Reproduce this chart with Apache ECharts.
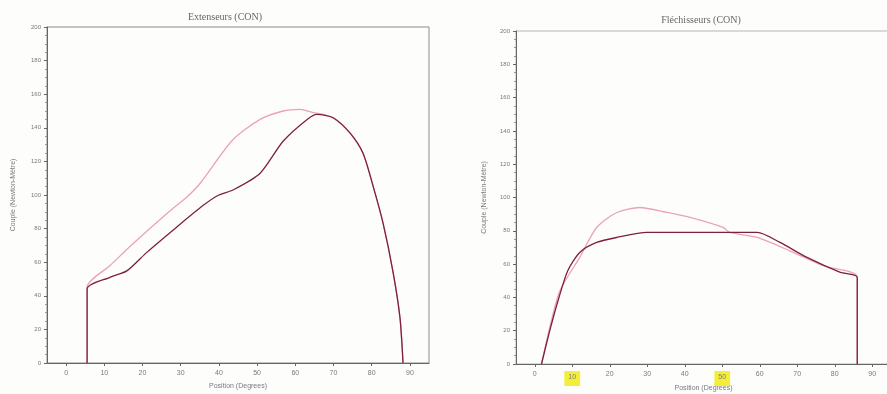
<!DOCTYPE html>
<html>
<head>
<meta charset="utf-8">
<script src="https://cdn.jsdelivr.net/npm/echarts@6/dist/echarts.min.js"></script>
<style>
html,body{margin:0;padding:0;background:#fdfdfb;}
#c{width:887px;height:394px;}
</style>
</head>
<body>
<div id="c"></div>
<script>
// Tick labels
const xTicks = [0, 10, 20, 30, 40, 50, 60, 70, 80, 90];
const yTicks = [0, 20, 40, 60, 80, 100, 120, 140, 160, 180, 200];
const highlighted = [10, 50];

// Extenseurs (CON) : [position (deg), couple (N·m)]
const extDark = [[5.5,0],[5.5,44],[11.5,51],[16,55],[21.2,66],[29,81],[36,94],[40,100],[43.7,103],[50.8,113],[56.8,132],[63.1,145],[65.7,148],[69.9,146],[74.3,137],[77.7,125],[80.4,105],[83,83],[85.6,54],[87.4,27],[88.2,0]];
const extLight = [[5.5,0],[5.5,45],[11.5,58],[17.5,71],[26.4,89],[31.7,99],[35.1,107],[43.7,133],[50.8,145],[56.8,150],[61.3,151],[64.7,149],[67.3,148],[69.9,146],[74.3,137],[77.7,125],[80.4,105],[83,83],[85.6,54],[87.4,27],[88.2,0]];

// Fléchisseurs (CON)
const flexDark = [[1.8,0],[4,20],[6.2,38],[8.8,56],[12,67],[16.5,73],[21.9,76],[29.9,79],[38.7,79],[45.9,79],[52,79],[59.3,79],[65.4,73],[72.6,64],[81.5,55],[86,52],[86,0]];
const flexLight = [[1.8,0],[4,22],[6.7,44],[12,64],[16.5,82],[21.9,91],[28,94],[35.3,91],[41.4,88],[50.2,82],[52,79],[59.3,76],[68,68],[77,59],[86,52],[86,0]];

const darkColor = '#7d2040';
const lightColor = '#eba3b2';
const axisColor = '#666';
const textColor = '#7a7a7a';

function xAxisDef(gridIndex, hl, gap) {
  return {
    type: 'value', gridIndex: gridIndex, min: -5, max: 95,
    name: 'Position (Degrees)', nameLocation: 'middle', nameGap: gap, nameMoveOverlap: false,
    nameTextStyle: {fontSize: 7, color: textColor, fontFamily: 'Liberation Sans'},
    axisLine: {show: true, onZero: false, lineStyle: {color: axisColor, width: 1.2}},
    axisTick: {show: true, customValues: xTicks, length: 3, lineStyle: {color: axisColor}},
    axisLabel: {
      customValues: xTicks, fontSize: 7, color: textColor, margin: 7,
      fontFamily: 'Liberation Sans',
      formatter: function (v) { return (hl && highlighted.indexOf(v) >= 0) ? '{hl|' + v + '}' : String(v); },
      rich: {hl: {backgroundColor: '#f4ee3a', padding: [3, 4, 5, 4], fontSize: 7, color: textColor}}
    },
    splitLine: {show: false}
  };
}
function yAxisDef(gridIndex, gap) {
  return {
    type: 'value', gridIndex: gridIndex, min: 0, max: 200, interval: 20,
    name: 'Couple (Newton-Mètre)', nameLocation: 'middle', nameGap: gap, nameMoveOverlap: false,
    nameTextStyle: {fontSize: 7, color: textColor, fontFamily: 'Liberation Sans'},
    axisLine: {show: true, onZero: false, lineStyle: {color: axisColor, width: 1}},
    axisTick: {show: true, length: 3, lineStyle: {color: axisColor}},
    minorTick: {show: true, splitNumber: 4, length: 2, lineStyle: {color: '#999'}},
    axisLabel: {fontSize: 6, color: textColor, margin: 6, fontFamily: 'Liberation Sans'},
    splitLine: {show: false}
  };
}
function line(data, color, xi, z) {
  return {type: 'line', data: data, xAxisIndex: xi, yAxisIndex: xi, showSymbol: false,
          smooth: 0.25, lineStyle: {color: color, width: 1.3}, z: z, animation: false};
}

const chart = echarts.init(document.getElementById('c'));
chart.setOption({
  backgroundColor: '#fdfdfb',
  animation: false,
  title: [
    {text: 'Extenseurs (CON)', left: 220, top: 7, textAlign: 'center',
     textStyle: {fontSize: 10, fontWeight: 'normal', color: '#666', fontFamily: 'Liberation Serif'}},
    {text: 'Fléchisseurs (CON)', left: 696, top: 10, textAlign: 'center',
     textStyle: {fontSize: 10, fontWeight: 'normal', color: '#666', fontFamily: 'Liberation Serif'}}
  ],
  grid: [
    {left: 47, top: 27, width: 382, height: 336, show: true, borderColor: '#8c8c8c', borderWidth: 1, backgroundColor: 'transparent', outerBoundsMode: 'none', containLabel: false},
    {left: 516, top: 31, width: 375, height: 333, show: true, borderColor: '#b5b5b5', borderWidth: 1, backgroundColor: 'transparent', outerBoundsMode: 'none', containLabel: false}
  ],
  xAxis: [xAxisDef(0, false, 20), xAxisDef(1, true, 21)],
  yAxis: [yAxisDef(0, 30), yAxisDef(1, 28)],
  series: [
    line(extLight, lightColor, 0, 2),
    line(extDark, darkColor, 0, 3),
    line(flexLight, lightColor, 1, 2),
    line(flexDark, darkColor, 1, 3)
  ]
});
</script>
</body>
</html>
